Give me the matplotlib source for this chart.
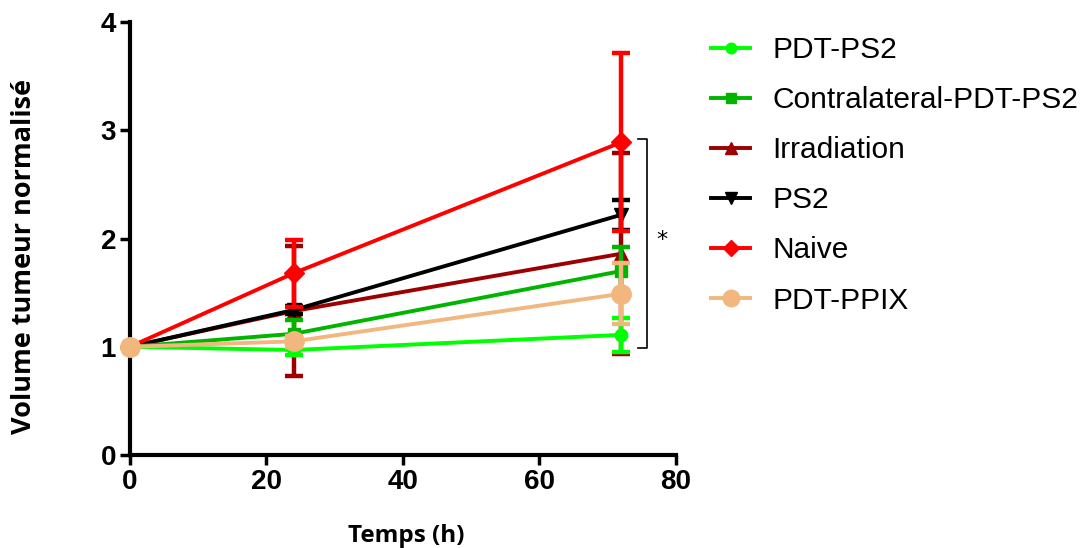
import matplotlib
matplotlib.use("Agg")
import matplotlib.pyplot as plt
from matplotlib.lines import Line2D

# ---- data ----
times = [0, 24, 72]
series_names = ["PDT-PS2", "Contralateral-PDT-PS2", "Irradiation", "PS2", "Naive", "PDT-PPIX"]
pdt_ps2 = [1.0, 0.97, 1.11]
pdt_ps2_err = [0.0, 0.05, 0.16]
contra = [1.0, 1.12, 1.70]
contra_err = [0.0, 0.13, 0.22]
irrad = [1.0, 1.33, 1.86]
irrad_err = [0.0, 0.60, 0.93]
ps2 = [1.0, 1.34, 2.22]
ps2_err = [0.0, 0.04, 0.14]
naive = [1.0, 1.68, 2.89]
naive_err = [0.0, 0.31, 0.82]
ppix = [1.0, 1.05, 1.49]
ppix_err = [0.0, 0.05, 0.28]

xticks = [0, 20, 40, 60, 80]
yticks = [0, 1, 2, 3, 4]
bracket_y = [0.99, 2.92]

colors = {
    "PDT-PS2": "#00FF00",
    "Contralateral-PDT-PS2": "#00B400",
    "Irradiation": "#9C0000",
    "PS2": "#000000",
    "Naive": "#FF0000",
    "PDT-PPIX": "#F2B77E",
}
markers = {
    "PDT-PS2": "o",
    "Contralateral-PDT-PS2": "s",
    "Irradiation": "^",
    "PS2": "v",
    "Naive": "D",
    "PDT-PPIX": "o",
}
msizes = {
    "PDT-PS2": 9,
    "Contralateral-PDT-PS2": 9,
    "Irradiation": 10,
    "PS2": 10,
    "Naive": 10,
    "PDT-PPIX": 14,
}
data = {
    "PDT-PS2": (pdt_ps2, pdt_ps2_err),
    "Contralateral-PDT-PS2": (contra, contra_err),
    "Irradiation": (irrad, irrad_err),
    "PS2": (ps2, ps2_err),
    "Naive": (naive, naive_err),
    "PDT-PPIX": (ppix, ppix_err),
}
draw_order = ["Irradiation", "PS2", "Contralateral-PDT-PS2", "PDT-PS2", "Naive", "PDT-PPIX"]

fig = plt.figure(figsize=(10.84, 5.48), dpi=100)
ax = fig.add_axes([0.1199, 0.1697, 0.5037, 0.790])

for i, name in enumerate(draw_order):
    y, e = data[name]
    ax.errorbar(times, y, yerr=e, color=colors[name], marker=markers[name],
                markersize=msizes[name], linewidth=2.8, elinewidth=3.2,
                capsize=6.5, capthick=3.2, zorder=3 + i, clip_on=False)

ax.set_xlim(0, 80)
ax.set_ylim(0, 4)
ax.set_xticks(xticks)
ax.set_yticks(yticks)
for s in ["top", "right"]:
    ax.spines[s].set_visible(False)
for s in ["left", "bottom"]:
    ax.spines[s].set_linewidth(3.0)
ax.tick_params(axis="both", direction="out", length=7, width=2.5, pad=3)
for lab in ax.get_xticklabels() + ax.get_yticklabels():
    lab.set_fontfamily("Liberation Sans")
    lab.set_fontweight("bold")
    lab.set_fontsize(20)

fig.text(406 / 1084, 1 - 536 / 548, "Temps (h)", fontfamily="Open Sans", fontweight="bold",
         fontsize=17.5, ha="center", va="center")
fig.text(24 / 1084, 1 - 256 / 548, "Volume tumeur normalisé", fontfamily="Open Sans",
         fontweight="bold", fontsize=19.5, ha="center", va="center", rotation=90)

# significance bracket
bx = 75.8
ax.plot([bx - 1.4, bx, bx, bx - 1.4], [bracket_y[1], bracket_y[1], bracket_y[0], bracket_y[0]],
        color="black", linewidth=1.2, clip_on=False)
ax.text(78.0, 1.99, "*", fontsize=16, ha="center", va="center", fontfamily="DejaVu Sans")

# legend
leg_handles = [Line2D([0], [0], color=colors[n], marker=markers[n], markersize=msizes[n] * 0.85,
                      linewidth=2.8) for n in series_names]
fig.legend(leg_handles, series_names, loc="upper left", bbox_to_anchor=(0.645, 0.956),
           frameon=False, prop={"family": "Liberation Sans", "size": 21.5},
           handlelength=1.3, handletextpad=0.75, labelspacing=0.74, borderaxespad=0)

fig.savefig("out.png", dpi=100)
